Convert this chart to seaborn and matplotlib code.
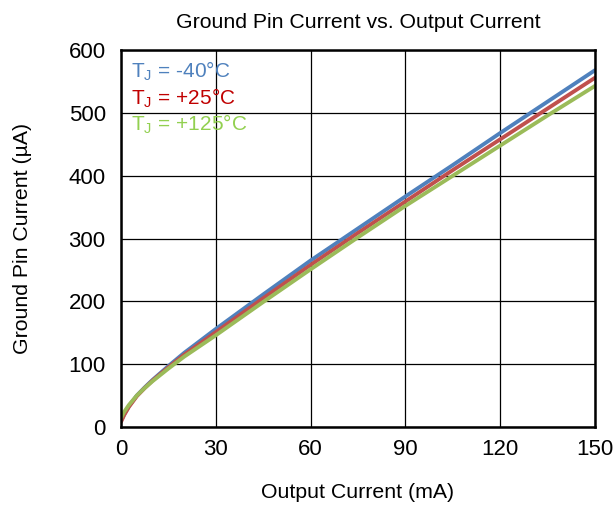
import numpy as np
import pandas as pd
import matplotlib
matplotlib.use("Agg")
import matplotlib.pyplot as plt
import seaborn as sns

# output current (mA)
i_out = [0, 1, 2.5, 5, 7.5, 10, 15, 20, 30, 45, 60, 75, 90, 105, 120, 135, 150]
# ground pin current (uA)
ignd_m40 = [10, 20, 33, 50, 63, 75, 97, 118, 156, 211, 265, 316, 367, 417, 468, 518, 568]
ignd_p25 = [8, 19, 32, 49, 62, 74, 95, 115, 151, 205, 258, 309, 359, 409, 458, 507, 556]
ignd_p125 = [14, 24, 35, 50, 62, 73, 93, 112, 146, 199, 251, 302, 352, 400, 448, 496, 543]

labels = ["T$_\\mathregular{J}$ = -40°C", "T$_\\mathregular{J}$ = +25°C", "T$_\\mathregular{J}$ = +125°C"]
colors = ["#4F81BD", "#C0504D", "#9BBB59"]
text_colors = ["#4F81BD", "#C00000", "#92D050"]

df = pd.DataFrame({
    "Iout": i_out * 3,
    "Ignd": ignd_m40 + ignd_p25 + ignd_p125,
    "T": [labels[0]] * len(i_out) + [labels[1]] * len(i_out) + [labels[2]] * len(i_out),
})

sns.set_style("white")
plt.rcParams["font.family"] = ["Liberation Sans", "DejaVu Sans"]
plt.rcParams["mathtext.fontset"] = "custom"
plt.rcParams["mathtext.rm"] = "Liberation Sans"

fig = plt.figure(figsize=(6.16, 5.11), dpi=100)
ax = fig.add_axes([0.1964, 0.1644, 0.7696, 0.7376])

sns.lineplot(data=df, x="Iout", y="Ignd", hue="T", palette=dict(zip(labels, colors)),
             linewidth=2.8, ax=ax, legend=False)

ax.set_xlim(0, 150)
ax.set_ylim(0, 600)
ax.set_xticks([0, 30, 60, 90, 120, 150])
ax.set_yticks([0, 100, 200, 300, 400, 500, 600])
ax.grid(True, color="black", linewidth=0.9)
ax.set_axisbelow(True)
for s in ax.spines.values():
    s.set_color("black")
    s.set_linewidth(1.8)
ax.tick_params(labelsize=16, length=0, colors="black")
ax.tick_params(axis="x", pad=9)
ax.tick_params(axis="y", pad=11)
ax.set_xlabel("Output Current (mA)", fontsize=15.3, labelpad=16, color="black")
ax.set_ylabel("Ground Pin Current (µA)", fontsize=15.3, labelpad=26, color="black")
ax.set_title("Ground Pin Current vs. Output Current", fontsize=15.3, pad=16, color="black")

for k, (lab, c) in enumerate(zip(labels, text_colors)):
    ax.text(0.022, 0.975 - k * 0.0703, lab, color=c, fontsize=15, transform=ax.transAxes,
            va="top", ha="left")

fig.savefig("out.png", dpi=100)
